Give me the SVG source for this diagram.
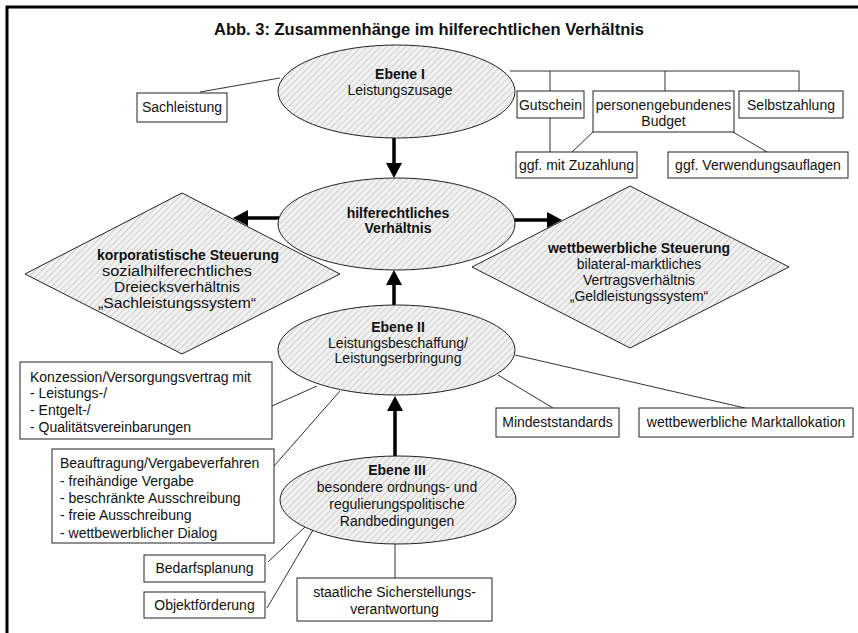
<svg xmlns="http://www.w3.org/2000/svg" width="858" height="633" viewBox="0 0 858 633">
<style>
text{font-family:"Liberation Sans",Arial,sans-serif;font-size:14px;fill:#111}
.b{font-weight:bold}
.t{font-size:16.5px;font-weight:bold}
.c{text-anchor:middle}
.shape{fill:url(#hatch);stroke:#222;stroke-width:1}
.box{fill:#fff;stroke:#222;stroke-width:1}
.ln{stroke:#333;stroke-width:1;fill:none}
.ar{stroke:#000;stroke-width:3.5;fill:none;marker-end:url(#head)}
</style>
<defs>
<pattern id="hatch" patternUnits="userSpaceOnUse" width="4.5" height="4.5" patternTransform="rotate(45)">
<rect width="4.5" height="4.5" fill="#f1f1f1"/>
<line x1="0" y1="0" x2="0" y2="4.5" stroke="#b0b0b0" stroke-width="1"/>
</pattern>
<marker id="head" markerUnits="userSpaceOnUse" markerWidth="16" markerHeight="16" refX="0" refY="8" orient="auto">
<path d="M0,0 L15,8 L0,16 z" fill="#000"/>
</marker>
</defs>
<rect width="858" height="633" fill="#fff"/>
<path d="M7,633 V7 H858" fill="none" stroke="#000" stroke-width="3"/>
<text class="t c" x="429" y="35">Abb. 3: Zusammenhänge im hilferechtlichen Verhältnis</text>

<g id="connectors">
<line class="ln" x1="200" y1="92" x2="280" y2="78"/>
<polyline class="ln" points="510,71 799,71"/>
<line class="ln" x1="550" y1="71" x2="550" y2="91"/>
<line class="ln" x1="665" y1="71" x2="665" y2="91"/>
<line class="ln" x1="799" y1="71" x2="799" y2="91"/>
<line class="ln" x1="550" y1="118" x2="550" y2="152"/>
<line class="ln" x1="593" y1="132" x2="572" y2="152"/>
<line class="ln" x1="733" y1="132" x2="767" y2="152"/>
<line class="ln" x1="272" y1="406" x2="317" y2="386"/>
<line class="ln" x1="274" y1="466" x2="340" y2="391"/>
<line class="ln" x1="498" y1="375" x2="553" y2="408"/>
<line class="ln" x1="515" y1="355" x2="745" y2="408"/>
<line class="ln" x1="268" y1="562" x2="305" y2="527"/>
<line class="ln" x1="267" y1="608" x2="313" y2="530"/>
<line class="ln" x1="395" y1="544" x2="395" y2="578"/>
<line class="ar" x1="394" y1="138" x2="394" y2="163"/>
<line class="ar" x1="279" y1="218" x2="248" y2="218"/>
<line class="ar" x1="514" y1="220" x2="547" y2="220"/>
<line class="ar" x1="394" y1="305" x2="394" y2="285"/>
<line class="ar" x1="395" y1="456" x2="395" y2="411"/>
</g>

<g id="ebene1">
<ellipse class="shape" cx="396.5" cy="91.5" rx="118.5" ry="46.5"/>
<text class="b c" x="400" y="79">Ebene I</text>
<text class="c" x="400" y="95">Leistungszusage</text>
</g>
<g id="sachleistung">
<rect class="box" x="137" y="93" width="90" height="29"/>
<text class="c" x="182" y="112">Sachleistung</text>
</g>
<g id="gutschein">
<rect class="box" x="517" y="91" width="67" height="27"/>
<text class="c" x="550.5" y="110">Gutschein</text>
</g>
<g id="budget">
<rect class="box" x="593" y="91" width="141" height="41"/>
<text class="c" x="663.5" y="110">personengebundenes</text>
<text class="c" x="663.5" y="126">Budget</text>
</g>
<g id="selbstzahlung">
<rect class="box" x="739" y="91" width="104" height="27"/>
<text class="c" x="791" y="110">Selbstzahlung</text>
</g>
<g id="zuzahlung">
<rect class="box" x="516" y="152" width="121" height="26"/>
<text class="c" x="576.5" y="170">ggf. mit Zuzahlung</text>
</g>
<g id="verwendung">
<rect class="box" x="668" y="152" width="180" height="26"/>
<text class="c" x="758" y="170">ggf. Verwendungsauflagen</text>
</g>

<g id="hilferechtlich">
<ellipse class="shape" cx="396.5" cy="224" rx="118.5" ry="46"/>
<text class="b c" x="398" y="218">hilferechtliches</text>
<text class="b c" x="398" y="233">Verhältnis</text>
</g>
<g id="korporatistisch">
<polygon class="shape" points="182,193 340,274 182,354 25,274"/>
<text class="b c" x="188" y="260">korporatistische Steuerung</text>
<text class="c" x="177" y="276" textLength="150" lengthAdjust="spacingAndGlyphs">sozialhilferechtliches</text>
<text class="c" x="177" y="292" textLength="126" lengthAdjust="spacingAndGlyphs">Dreiecksverhältnis</text>
<text class="c" x="177" y="308" textLength="158" lengthAdjust="spacingAndGlyphs">„Sachleistungssystem“</text>
</g>
<g id="wettbewerblich">
<polygon class="shape" points="630,186 789,267 630,348 472,267"/>
<text class="b c" x="639" y="253">wettbewerbliche Steuerung</text>
<text class="c" x="639" y="269">bilateral-marktliches</text>
<text class="c" x="639" y="285">Vertragsverhältnis</text>
<text class="c" x="639" y="301">„Geldleistungssystem“</text>
</g>

<g id="ebene2">
<ellipse class="shape" cx="396.5" cy="350" rx="118.5" ry="45"/>
<text class="b c" x="398" y="332">Ebene II</text>
<text class="c" x="398" y="348">Leistungsbeschaffung/</text>
<text class="c" x="398" y="363">Leistungserbringung</text>
</g>
<g id="konzession">
<rect class="box" x="20" y="362" width="252" height="77"/>
<text x="30" y="382">Konzession/Versorgungsvertrag mit</text>
<text x="30" y="398">- Leistungs-/</text>
<text x="30" y="415">- Entgelt-/</text>
<text x="30" y="432">- Qualitätsvereinbarungen</text>
</g>
<g id="beauftragung">
<rect class="box" x="52" y="449" width="222" height="94"/>
<text x="60" y="468">Beauftragung/Vergabeverfahren</text>
<text x="60" y="486">- freihändige Vergabe</text>
<text x="60" y="503">- beschränkte Ausschreibung</text>
<text x="60" y="520">- freie Ausschreibung</text>
<text x="60" y="538">- wettbewerblicher Dialog</text>
</g>
<g id="mindeststandards">
<rect class="box" x="496" y="408" width="123" height="29"/>
<text class="c" x="557.5" y="427">Mindeststandards</text>
</g>
<g id="marktallokation">
<rect class="box" x="639" y="408" width="214" height="29"/>
<text class="c" x="746" y="427">wettbewerbliche Marktallokation</text>
</g>

<g id="ebene3">
<ellipse class="shape" cx="398" cy="500" rx="118" ry="44"/>
<text class="b c" x="397" y="475">Ebene III</text>
<text class="c" x="397" y="492">besondere ordnungs- und</text>
<text class="c" x="397" y="509">regulierungspolitische</text>
<text class="c" x="397" y="526">Randbedingungen</text>
</g>
<g id="bedarfsplanung">
<rect class="box" x="144" y="555" width="121" height="27"/>
<text class="c" x="204.5" y="573">Bedarfsplanung</text>
</g>
<g id="objektfoerderung">
<rect class="box" x="144" y="592" width="121" height="26"/>
<text class="c" x="204.5" y="610">Objektförderung</text>
</g>
<g id="sicherstellung">
<rect class="box" x="297" y="578" width="195" height="43"/>
<text class="c" x="394.5" y="597">staatliche Sicherstellungs-</text>
<text class="c" x="394.5" y="614">verantwortung</text>
</g>
</svg>
